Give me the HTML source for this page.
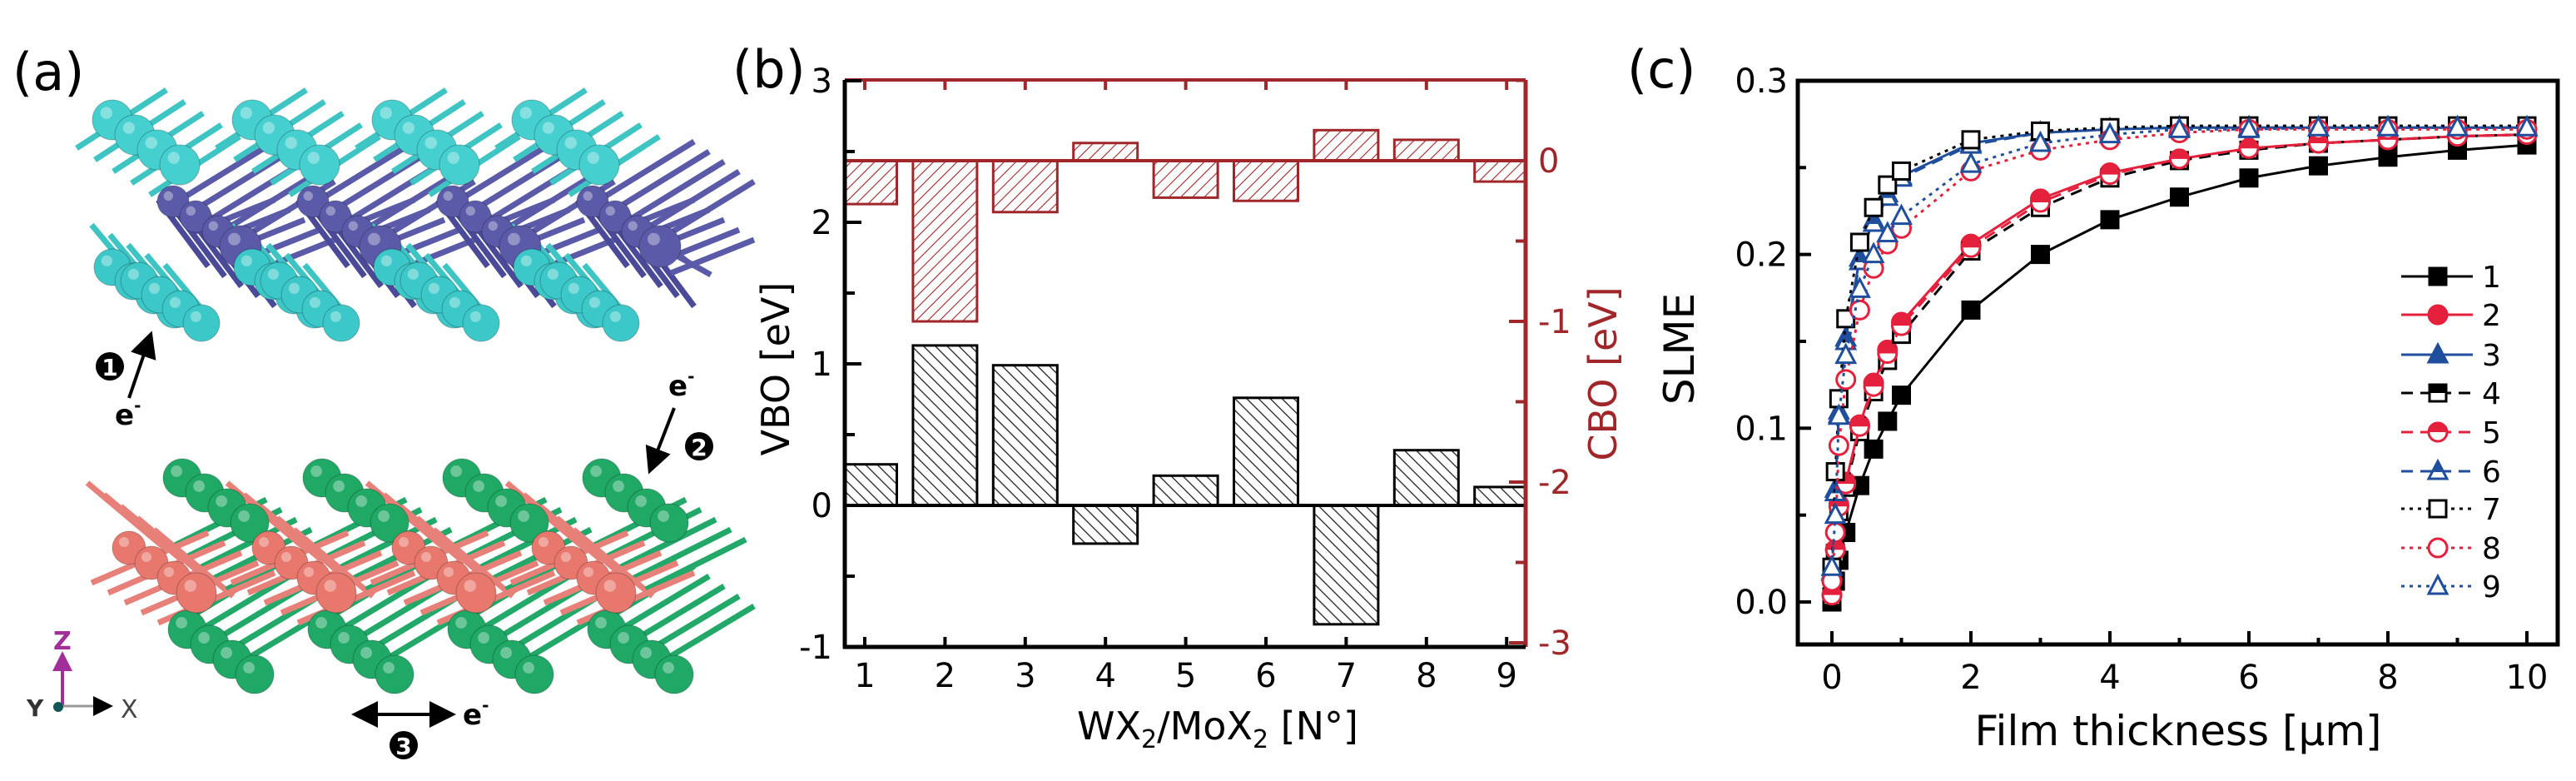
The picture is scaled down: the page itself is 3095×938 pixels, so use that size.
<!DOCTYPE html>
<html><head><meta charset="utf-8"><style>
html,body{margin:0;padding:0;background:#fff;}
svg{display:block;}
text{font-family:"DejaVu Sans","Liberation Sans",sans-serif;}
</style></head>
<body>
<svg id="fig" width="3095" height="938" viewBox="0 0 3095 938" xmlns="http://www.w3.org/2000/svg">
<defs>
<pattern id="hatchB" patternUnits="userSpaceOnUse" width="10" height="10" patternTransform="rotate(-45)"><rect width="10" height="10" fill="#fff"/><line x1="0" y1="0" x2="0" y2="10" stroke="#222" stroke-width="2.6"/></pattern>
<pattern id="hatchR" patternUnits="userSpaceOnUse" width="10" height="10" patternTransform="rotate(45)"><rect width="10" height="10" fill="#fff"/><line x1="0" y1="0" x2="0" y2="10" stroke="#a0262a" stroke-width="2.2"/></pattern>
<clipPath id="clipB"><rect x="1015" y="96" width="818" height="681"/></clipPath>
<marker id="ah" markerWidth="8" markerHeight="8" refX="6" refY="4" orient="auto-start-reverse"><path d="M0,0 L8,4 L0,8 z" fill="#000"/></marker>
<marker id="ahp" markerWidth="6" markerHeight="6" refX="4" refY="3" orient="auto"><path d="M0,0 L6,3 L0,6 z" fill="#a02f9a"/></marker>
</defs>

<!-- Panel a -->
<g id="panelA">
<text x="15" y="108" font-size="62" font-family="Liberation Sans">(a)</text>
<g id="structure"></g>
<g>
<circle cx="132" cy="440" r="17" fill="#000"/><text x="132" y="451" font-size="28" font-weight="bold" fill="#fff" text-anchor="middle">1</text>
<line x1="155" y1="478" x2="180" y2="405" stroke="#000" stroke-width="4" marker-end="url(#ah)"/>
<text x="138" y="510" font-size="34" font-weight="bold">e<tspan font-size="20" dy="-16">-</tspan></text>
<text x="803" y="475" font-size="34" font-weight="bold">e<tspan font-size="20" dy="-16">-</tspan></text>
<line x1="810" y1="490" x2="782" y2="562" stroke="#000" stroke-width="4" marker-end="url(#ah)"/>
<circle cx="840" cy="536" r="17" fill="#000"/><text x="840" y="547" font-size="28" font-weight="bold" fill="#fff" text-anchor="middle">2</text>
<line x1="430" y1="858" x2="540" y2="858" stroke="#000" stroke-width="4" marker-end="url(#ah)" marker-start="url(#ah)"/>
<text x="556" y="870" font-size="34" font-weight="bold">e<tspan font-size="20" dy="-16">-</tspan></text>
<circle cx="485" cy="895" r="17" fill="#000"/><text x="485" y="906" font-size="28" font-weight="bold" fill="#fff" text-anchor="middle">3</text>
<line x1="75" y1="848" x2="75" y2="790" stroke="#a02f9a" stroke-width="4" marker-end="url(#ahp)"/>
<text x="64" y="780" font-size="30" fill="#a02f9a" font-weight="bold">Z</text>
<line x1="75" y1="848" x2="130" y2="848" stroke="#999" stroke-width="3" marker-end="url(#ah)"/>
<circle cx="70" cy="849" r="6" fill="#155"/>
<text x="32" y="860" font-size="28" font-weight="bold" fill="#333">Y</text>
<text x="145" y="862" font-size="30" fill="#444">X</text>
</g>
</g>

<!-- Panel b -->
<g id="panelB">
<text x="880" y="105" font-size="62" font-family="Liberation Sans">(b)</text>
<g id="barsB" clip-path="url(#clipB)"></g>
<g id="axesB"></g>
</g>

<!-- Panel c -->
<g id="panelC">
<text x="1955" y="105" font-size="62" font-family="Liberation Sans">(c)</text>
<g id="plotC"></g>
</g>
</svg>
<script>
const NS='http://www.w3.org/2000/svg';
function mk(tag,attrs,parent,txt){const e=document.createElementNS(NS,tag);for(const k in attrs)e.setAttribute(k,attrs[k]);if(txt!==undefined)e.textContent=txt;parent.appendChild(e);return e;}

// ---------- Panel b data ----------
const bCategories=[1,2,3,4,5,6,7,8,9];
const bVBO=[0.29,1.13,0.99,-0.27,0.21,0.76,-0.84,0.39,0.13];
const bCBO=[-0.27,-1.0,-0.32,0.11,-0.23,-0.25,0.19,0.13,-0.13];
const bVBOTicks=[3,2,1,0,-1];
const bCBOTicks=[0,-1,-2,-3];

// ---------- Panel c data ----------
const cThickness=[0,0.05,0.1,0.2,0.4,0.6,0.8,1,2,3,4,5,6,7,8,9,10];
const cS1=[0.0,0.012,0.024,0.040,0.067,0.088,0.104,0.119,0.168,0.200,0.220,0.233,0.244,0.251,0.256,0.260,0.263];
const cS2=[0.004,0.03,0.056,0.069,0.102,0.126,0.145,0.161,0.206,0.232,0.247,0.255,0.261,0.264,0.266,0.268,0.269];
const cS3=[0.018,0.065,0.11,0.152,0.198,0.22,0.235,0.245,0.264,0.270,0.272,0.273,0.273,0.273,0.273,0.273,0.273];
const cS4=[0.003,0.028,0.052,0.066,0.098,0.121,0.139,0.154,0.202,0.227,0.244,0.254,0.260,0.264,0.266,0.268,0.269];
const cS5=[0.004,0.03,0.055,0.068,0.101,0.124,0.143,0.159,0.204,0.230,0.246,0.255,0.261,0.264,0.266,0.268,0.269];
const cS6=[0.017,0.063,0.108,0.150,0.196,0.218,0.233,0.244,0.263,0.270,0.272,0.273,0.273,0.273,0.273,0.273,0.273];
const cS7=[0.02,0.075,0.117,0.163,0.207,0.227,0.240,0.248,0.266,0.271,0.273,0.274,0.274,0.274,0.274,0.274,0.274];
const cS8=[0.012,0.04,0.09,0.128,0.168,0.192,0.206,0.215,0.248,0.260,0.266,0.270,0.272,0.272,0.272,0.272,0.272];
const cS9=[0.02,0.05,0.107,0.142,0.18,0.20,0.212,0.222,0.252,0.264,0.269,0.272,0.272,0.273,0.273,0.273,0.273];
const cLabels=['1','2','3','4','5','6','7','8','9'];
const cXTicks=[0,2,4,6,8,10];
const cYTicks=[0.0,0.1,0.2,0.3];

// ---------- Panel a structure ----------
(function(){
 const g=document.getElementById('structure');
 
 
 function ball(x,y,r,c){
  mk('circle',{cx:x,cy:y,r:r,fill:c,stroke:'rgba(0,0,0,0.25)','stroke-width':1},g);
  mk('circle',{cx:x-r*0.3,cy:y-r*0.35,r:r*0.3,fill:'rgba(255,255,255,0.35)'},g);}
 function bond(x1,y1,x2,y2,c,w){mk('line',{x1:x1,y1:y1,x2:x2,y2:y2,stroke:c,'stroke-width':w||8},g);}
 // top layer background bonds
 for(let i=0;i<4;i++){const ox=168*i;
  for(let k=0;k<5;k++){
   bond(92+ox+k*22,178+k*14,200+ox+k*22,108+k*14,'#3fc4c4',7);
   bond(200+ox+k*18,250+k*12,330+ox+k*18,170+k*12,'#5a5aa8',7);
   bond(110+ox+k*22,270+k*12,160+ox+k*22,330+k*12,'#3fc4c4',7);
   bond(190+ox+k*20,240+k*12,250+ox+k*20,320+k*12,'#4a4a98',7);
   bond(230+ox+k*18,280+k*12,330+ox+k*18,240+k*12,'#5a5aa8',7);
  }
  bond(240+ox,250,330+ox,320,'#5a5aa8',6);
  bond(289+ox,296,350+ox,330,'#5a5aa8',7);
 }
 for(let i=0;i<4;i++){const ox=168*i;
  for(let k=3;k>=0;k--){ball(210+ox-k*25,372-k*17,22,'#3cc8c8');}
  for(let k=3;k>=0;k--){ball(227+ox-k*25+15,380-k*17+8,22,'#3cc8c8');}
  for(let k=3;k>=0;k--){ball(289+ox-k*27,296-k*18,k?19:25,'#5a5aa8');}
  for(let k=0;k<4;k++){ball(135+ox+k*27,144+k*18,24,'#45cfcf');}
 }
 // bottom layer
 for(let i=0;i<4;i++){const ox=168*i;
  for(let k=0;k<5;k++){
   bond(105+ox+k*20,580+k*14,200+ox+k*20,660+k*14,'#e8807a',7);
   bond(200+ox+k*18,660+k*12,320+ox+k*18,600+k*12,'#22a868',7);
   bond(110+ox+k*20,700+k*12,250+ox+k*20,640+k*12,'#e8807a',7);
   bond(230+ox+k*18,740+k*12,330+ox+k*18,680+k*12,'#22a868',7);
  }
 }
 for(let i=0;i<4;i++){const ox=168*i;
  for(let k=3;k>=0;k--){ball(306+ox-k*27,810-k*18,23,'#1fa866');}
  for(let k=3;k>=0;k--){ball(236+ox-k*27,712-k*18,k?20:24,'#e8786e');}
  for(let k=0;k<4;k++){ball(219+ox+k*27,574+k*18,23,'#20a865');}
 }
})();

// ---------- Panel b drawing ----------
(function(){
 const bars=document.getElementById('barsB'), ax=document.getElementById('axesB');
 const L=1015,R=1833,T=96,B=777;
 const xB=i=>1039+(i-1)*96.4;
 const vy=v=>607-v*170;
 const cy=c=>193-c*193;
 const W=77;
 bCategories.forEach((c,i)=>{
  const x=xB(c)-W/2;
  const y0=vy(0),y1=vy(bVBO[i]);
  const r=mk('rect',{x:x,y:Math.min(y0,y1),width:W,height:Math.abs(y1-y0),fill:'url(#hatchB)',stroke:'#000','stroke-width':3},bars);
  
  
  const z0=cy(0),z1=cy(bCBO[i]);
  const r2=mk('rect',{x:x,y:Math.min(z0,z1),width:W,height:Math.abs(z1-z0),fill:'url(#hatchR)',stroke:'#a0262a','stroke-width':3},bars);
  
  
 });
 mk('line',{x1:L,y1:vy(0),x2:R,y2:vy(0),stroke:'#000','stroke-width':4},ax);
 mk('line',{x1:L,y1:cy(0),x2:R,y2:cy(0),stroke:'#a0262a','stroke-width':4},ax);
 mk('line',{x1:L,y1:T,x2:R,y2:T,stroke:'#a0262a','stroke-width':4},ax);
 mk('line',{x1:R,y1:T,x2:R,y2:B,stroke:'#a0262a','stroke-width':5},ax);
 const la=mk('line',{x1:L,y1:T,x2:L,y2:B+2,stroke:'#000','stroke-width':5},ax);
 
 
 mk('line',{x1:L-2,y1:B,x2:R,y2:B,stroke:'#000','stroke-width':5},ax);
 bCategories.forEach(c=>{
  const x=xB(c);
  mk('line',{x1:x,y1:B,x2:x,y2:B-12,stroke:'#000','stroke-width':4},ax);
  mk('line',{x1:x,y1:T,x2:x,y2:T+12,stroke:'#a0262a','stroke-width':4},ax);
  const t=mk('text',{x:x,y:B+48,'font-size':40,'text-anchor':'middle'},ax,String(c));
  
  
 });
 for(let v=-1;v<=3;v+=0.5){mk('line',{x1:L,y1:vy(v),x2:L+(Number.isInteger(v)?20:12),y2:vy(v),stroke:'#000','stroke-width':4},ax);}
 bVBOTicks.forEach(v=>{const t=mk('text',{x:1000,y:vy(v)+14,'font-size':40,'text-anchor':'end'},ax,v<0?'-'+Math.abs(v):String(v));
  
  });
 for(let c=-3;c<=0.5;c+=0.5){mk('line',{x1:R,y1:cy(c),x2:R-(Number.isInteger(c)?20:12),y2:cy(c),stroke:'#a0262a','stroke-width':4},ax);}
 bCBOTicks.forEach(c=>{const t=mk('text',{x:1848,y:cy(c)+14,'font-size':40,fill:'#a0262a'},ax,c<0?'-'+Math.abs(c):String(c));
  
  });
 const yt=mk('text',{x:0,y:0,'font-size':46,'text-anchor':'middle',transform:'translate(948,443) rotate(-90)'},ax,'VBO [eV]');
 
 
 const yt2=mk('text',{x:0,y:0,'font-size':46,'text-anchor':'middle',fill:'#a0262a',transform:'translate(1942,449) rotate(-90)'},ax,'CBO [eV]');
 
 
 const xt=mk('text',{x:1463,y:888,'font-size':46,'text-anchor':'middle'},ax);
 
 
 xt.innerHTML='WX<tspan font-size="30" dy="10">2</tspan><tspan dy="-10">/MoX</tspan><tspan font-size="30" dy="10">2</tspan><tspan dy="-10"> [N°]</tspan>';
})();

// ---------- Panel c drawing ----------
(function(){
 const g=document.getElementById('plotC');
 const L=2160,R=3073,T=97,B=774;
 const xC=x=>2201+x*83.5;
 const yC=v=>723-v*2087;
 const red='#e5203c',blue='#1f4e9c';
 const series=[cS1,cS2,cS3,cS4,cS5,cS6,cS7,cS8,cS9];
 const colors=['#000',red,blue,'#000',red,blue,'#000',red,blue];
 const shapes=['sq','ci','tr','sq','ci','tr','sq','ci','tr'];
 const fills=['full','full','full','half','half','half','none','none','none'];
 const dashes=['none','none','none','14,9','14,9','14,9','4,6','4,6','4,6'];
 function marker(x,y,shape,col,fill,parent){
  const s=10;
  const fc=fill==='full'?col:'#fff';
  if(shape==='sq'){mk('rect',{x:x-s,y:y-s,width:2*s,height:2*s,fill:fc,stroke:col,'stroke-width':3},parent);
   if(fill==='half')mk('rect',{x:x-s,y:y-s,width:2*s,height:s,fill:col},parent);}
  else if(shape==='ci'){mk('circle',{cx:x,cy:y,r:s+1,fill:fc,stroke:col,'stroke-width':3},parent);
   if(fill==='half')mk('path',{d:`M${x-s-1},${y} A${s+1},${s+1} 0 0 1 ${x+s+1},${y} Z`,fill:col},parent);}
  else {mk('polygon',{points:`${x},${y-s-2} ${x+s+1},${y+s-1} ${x-s-1},${y+s-1}`,fill:fc,stroke:col,'stroke-width':3},parent);
   if(fill==='half')mk('polygon',{points:`${x},${y-s-2} ${x+5},${y+1} ${x-5},${y+1}`,fill:col},parent);}
 }
 series.forEach((ser,si)=>{
  const sg=mk('g',{},g);
  
  
  const pts=ser.map((v,i)=>xC(cThickness[i])+','+yC(v)).join(' ');
  mk('polyline',{points:pts,fill:'none',stroke:colors[si],'stroke-width':3,'stroke-dasharray':dashes[si]},sg);
  ser.forEach((v,i)=>marker(xC(cThickness[i]),yC(v),shapes[si],colors[si],fills[si],sg));
 });
 const fr=mk('rect',{x:L,y:T,width:R-L,height:B-T,fill:'none',stroke:'#000','stroke-width':5},g);
 
 
 for(let v=0;v<=0.3001;v+=0.05){const major=Math.abs(v*10-Math.round(v*10))<1e-6;
  mk('line',{x1:L,y1:yC(v),x2:L+(major?16:10),y2:yC(v),stroke:'#000','stroke-width':4},g);}
 for(let x=0;x<=10;x++){mk('line',{x1:xC(x),y1:B,x2:xC(x),y2:B-(x%2?8:16),stroke:'#000','stroke-width':4},g);}
 cYTicks.forEach(v=>{const t=mk('text',{x:2148,y:yC(v)+14,'font-size':40,'text-anchor':'end'},g,v.toFixed(1));
  
  });
 cXTicks.forEach(x=>{const t=mk('text',{x:xC(x),y:827,'font-size':40,'text-anchor':'middle'},g,String(x));
  
  });
 const xt=mk('text',{x:2617,y:895,'font-size':50,'text-anchor':'middle'},g,'Film thickness [μm]');
 
 
 const yt=mk('text',{x:0,y:0,'font-size':50,'text-anchor':'middle',transform:'translate(2035,419) rotate(-90)'},g,'SLME');
 
 
 const lg=mk('g',{},g);
 
 
 const rowsY=[332,378,426,472,519,566,611,658,704];
 cLabels.forEach((lab,i)=>{
  const eg=mk('g',{},lg);
  
  
  const y=rowsY[i];
  mk('line',{x1:2885,y1:y,x2:2971,y2:y,stroke:colors[i],'stroke-width':3,'stroke-dasharray':dashes[i]},eg);
  marker(2929,y,shapes[i],colors[i],fills[i],eg);
  mk('text',{x:2982,y:y+13,'font-size':36},eg,lab);
 });
})();
</script>
</body></html>
